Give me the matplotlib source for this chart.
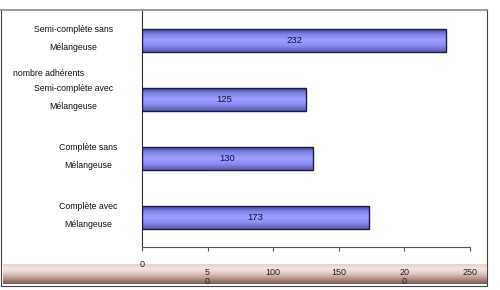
import matplotlib.pyplot as plt
import numpy as np
from matplotlib.colors import LinearSegmentedColormap

plt.rcParams['font.family'] = ['Liberation Sans', 'DejaVu Sans']

# data
categories = ['Semi-complète sans\nMélangeuse', 'Semi-complète avec\nMélangeuse',
              'Complète sans\nMélangeuse', 'Complète avec\nMélangeuse']
adherents = [232, 125, 130, 173]
tick_values = [0, 50, 100, 150, 200, 250]
tick_labels = ['0', '5\n0', '100', '150', '20\n0', '250']

fig = plt.figure(figsize=(5, 2.9), dpi=100)
ax = fig.add_axes([0.284, 0.148, 0.656, 0.814], zorder=2)
ax.patch.set_alpha(0)

y = np.arange(len(categories))
bars = ax.barh(y, adherents, height=0.39, color='#8a8af0', edgecolor='#1c1c48', linewidth=1.0, zorder=3)

# vertical gradient inside each bar
bar_cmap = LinearSegmentedColormap.from_list('bar', ['#3a3a80', '#8080e6', '#a0a0ff', '#8a8af2', '#5a5aa8'])
grad = np.linspace(0, 1, 64).reshape(-1, 1)
for b in bars:
    x0, y0 = b.get_x(), b.get_y()
    im = ax.imshow(grad, cmap=bar_cmap, aspect='auto', zorder=3,
                   extent=[x0, x0 + b.get_width(), y0 + b.get_height(), y0])
    im.set_clip_path(b)
for b in bars:
    b.set_facecolor('none')
    b.set_zorder(4)

for yi, v in zip(y, adherents):
    ax.text(v / 2, yi, str(v), ha='center', va='center', fontsize=6.8, color='#101040', zorder=5)

ax.set_xlim(0, 250)
ax.set_ylim(3.5, -0.5)
ax.set_yticks([])
ax.set_xticks(tick_values)
ax.set_xticklabels([])
ax.tick_params(axis='x', direction='out', length=3, color='#555555', width=0.8)
for s in ['top', 'right']:
    ax.spines[s].set_visible(False)
ax.spines['bottom'].set_color('#555555')
ax.spines['bottom'].set_linewidth(0.8)
ax.spines['left'].set_color('#333333')
ax.spines['left'].set_linewidth(0.8)

# category labels on the left (semi-complète labels sit a bit further left)
label_x = [-0.21, -0.21, -0.165, -0.165]
for yi, c, lx in zip(y, categories, label_x):
    ax.text(lx, yi - 0.03, c, transform=ax.get_yaxis_transform(), ha='center', va='center',
            fontsize=6.3, color='#111111', linespacing=2.3)
fig.text(0.097, 0.745, 'nombre adhérents', ha='center', va='center', fontsize=6.3, color='#111111')

# bottom band with gradient
band = fig.add_axes([0.006, 0.02, 0.968, 0.068], zorder=0)
band_cmap = LinearSegmentedColormap.from_list('band', ['#e8d2cc', '#f2e6e2', '#dcc4bd', '#b0908a', '#7a5a54'])
band.imshow(grad, cmap=band_cmap, aspect='auto', extent=[0, 1, 0, 1])
band.axis('off')

# x tick labels
for tv, tl in zip(tick_values, tick_labels):
    ty = -0.055 if tv == 0 else -0.09
    ax.text(tv, ty, tl, transform=ax.get_xaxis_transform(), ha='center', va='top',
            fontsize=6.5, color='#222222', linespacing=1.0, zorder=6)

# outer frame
frame = fig.add_axes([0.002, 0.015, 0.972, 0.95], zorder=-1)
frame.set_xticks([])
frame.set_yticks([])
frame.patch.set_alpha(0)
for s in frame.spines.values():
    s.set_color('#444444')
    s.set_linewidth(0.8)
frame.spines['top'].set_color('#888888')
frame.spines['top'].set_linewidth(1.2)

fig.savefig('out.png', dpi=100)
